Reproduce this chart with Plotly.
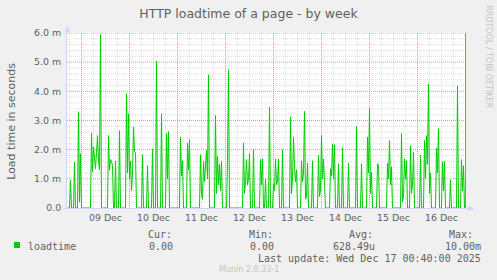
import plotly.graph_objects as go
import pandas as pd

# ---------------- data ----------------
# load time in milli-seconds, one sample every 30 minutes starting 2025-12-08 17:00
load_ms = [
    0, 0, 0, 0.95, 0, 0, 0, 1.57, 0, 0, 0, 3.3, 0.2, 1.86, 0, 0, 0, 0, 0, 0,
    0, 0, 0, 0, 2.57, 1.25, 2.1, 1.6, 1.35, 1.9, 2.48, 1.6, 1.31, 5.95, 0, 0, 0, 0, 0, 0,
    0, 2.48, 1.3, 1.66, 1.6, 1.45, 0, 0, 1.62, 0, 0, 0, 2.65, 0, 0, 0, 0, 0, 0, 3.92,
    1.2, 3.23, 1.0, 1.6, 0.6, 1.2, 2.78, 1.94, 1.9, 0, 0, 0, 0, 0, 0, 1.83, 0, 0, 0, 0,
    1.45, 0, 0, 0, 0, 2.03, 0, 0, 0, 5.04, 0, 0, 0, 0, 3.23, 0, 0, 0, 0, 2.55,
    1.0, 2.62, 0, 0, 0, 0, 0, 0, 0, 0, 0, 0, 0, 2.42, 1.1, 1.62, 0, 0, 0, 0,
    2.23, 1.3, 2.34, 0, 0, 0, 0, 0, 0, 0, 0, 0, 0, 1.83, 0.5, 0.3, 1.6, 0.9, 1.66, 1.97,
    1.0, 4.57, 0, 0, 0, 0, 0, 0, 3.17, 0.5, 1.77, 0.8, 1.49, 0.6, 1.6, 0, 0, 0, 0, 0,
    1.62, 4.74, 0, 0, 0, 0, 0, 0, 0, 0, 0, 0, 0, 0, 0, 0, 2.23, 0.5, 0.9, 1.66,
    0.8, 1.0, 1.86, 0, 0, 0, 2.0, 0, 0, 0, 0, 0, 0, 1.66, 0.8, 1.69, 0, 0, 1.0, 0,
    0, 0, 3.46, 0, 0, 0, 0.83, 0.6, 1.68, 0.8, 0.9, 1.68, 0, 0, 0, 2.0, 0, 0, 0, 0,
    0, 0, 0, 3.12, 0.5, 1.0, 2.42, 1.4, 0.9, 1.31, 0, 0, 0, 0, 1.62, 0.9, 1.2, 3.31, 0.3, 0.4,
    1.54, 0, 0, 0, 0, 1.62, 0, 0, 0, 0, 0, 1.8, 0.4, 0.6, 2.48, 1.0, 1.68, 0.9, 0, 0,
    0, 0, 0, 1.34, 1.1, 2.2, 1.0, 2.17, 0, 0, 0, 1.52, 0, 0, 0, 2.07, 0, 0, 0, 0,
    0, 1.54, 0, 0, 0, 0, 0, 0, 0, 2.8, 0, 0, 0, 0, 1.52, 0, 0, 0, 0, 0,
    2.43, 1.2, 3.42, 0.5, 1.23, 0, 0, 0, 0, 0, 1.52, 1.45, 0, 0, 0, 0, 0, 0, 0, 0,
    1.54, 1.0, 2.31, 0.8, 1.41, 0, 0, 0, 0, 0, 0, 0, 0, 0, 2.55, 0.2, 0.4, 1.69, 1.0, 1.62,
    0, 0, 0, 2.14, 0.5, 0.8, 1.92, 0, 0, 0, 0, 0, 0, 1.81, 0, 0, 0, 2.31, 1.0, 2.48,
    1.5, 4.26, 0.5, 1.2, 0, 0, 0, 0, 0, 2.06, 1.2, 2.72, 0, 0, 0, 1.58, 0.6, 1.6, 0, 0,
    0, 0, 0, 0.97, 0, 0, 0, 0, 0, 0, 4.19, 0, 0, 0, 1.66, 0.6, 1.45, 0, 0, 0,
]
start_time = "2025-12-08 17:00"
sample_step = "30min"

day_labels = ["09 Dec", "10 Dec", "11 Dec", "12 Dec", "13 Dec", "14 Dec", "15 Dec", "16 Dec"]
day_label_times = ["2025-12-%02d 12:00" % d for d in range(9, 17)]
midnights = ["2025-12-%02d 00:00" % d for d in range(9, 18)]

y_tick_vals = [0, 1, 2, 3, 4, 5, 6]
y_tick_text = ["0.0", "1.0 m", "2.0 m", "3.0 m", "4.0 m", "5.0 m", "6.0 m"]

title_text = "HTTP loadtime of a page - by week"
y_title = "Load time in seconds"
series_name = "loadtime"
stat_headers = ["Cur:", "Min:", "Avg:", "Max:"]
stat_values = ["0.00", "0.00", "628.49u", "10.00m"]
last_update = "Last update: Wed Dec 17 00:40:00 2025"
munin_version = "Munin 2.0.33-1"
rrd_credit = "RRDTOOL / TOBI OETIKER"

# ---------------- styling ----------------
W, H = 497, 280
L, R, T, B = 67, 31, 33, 72
PW, PH = W - L - R, H - T - B
GREEN = "#00CC00"
FONT = "DejaVu Sans"
MONO = "DejaVu Sans Mono"
TXT = "#5f5f5f"
AXIS = "#CFD6F8"
MINOR = "rgba(150,150,150,0.3)"
MAJOR = "rgba(222,79,79,0.6)"

x_start = pd.Timestamp("2025-12-08 16:45")
x_end = pd.Timestamp("2025-12-17 00:15")
y_max = 6.0


def px(xp):
    return (xp - L) / PW


def py(yp):
    return (H - B - yp) / PH


times = pd.date_range(start_time, periods=len(load_ms), freq=sample_step)

fig = go.Figure()
fig.add_trace(go.Scatter(x=times, y=load_ms, mode="lines",
                         line=dict(color=GREEN, width=1), hoverinfo="skip",
                         showlegend=False))

shapes = []
# horizontal grid: minor every 0.2 m, major every 1.0 m
for k in range(1, 31):
    v = k * 0.2
    major = (k % 5 == 0)
    shapes.append(dict(type="line", xref="x", yref="y", x0=x_start, x1=x_end,
                       y0=v, y1=v, layer="below",
                       line=dict(color=MAJOR if major else MINOR, width=1, dash="1px,1px")))
# vertical grid: minor every 6 h, major at midnight
t = pd.Timestamp("2025-12-08 18:00")
while t < x_end:
    major = (t.hour == 0)
    col = MAJOR if major else MINOR
    shapes.append(dict(type="line", xref="x", yref="y", x0=t, x1=t, y0=0, y1=y_max,
                       layer="below", line=dict(color=col, width=1, dash="1px,1px")))
    t += pd.Timedelta(hours=6)
# right edge (Dec 17 00:00) darker line
shapes.append(dict(type="line", xref="x", yref="y", x0=midnights[-1], x1=midnights[-1],
                   y0=0, y1=y_max, layer="below",
                   line=dict(color="rgba(190,110,110,0.9)", width=1)))
# axis extensions and arrows (outside the plotting area)
shapes.append(dict(type="line", xref="paper", yref="paper", x0=px(67.5), x1=px(67.5),
                   y0=1, y1=py(29), line=dict(color=AXIS, width=1)))
shapes.append(dict(type="path", xref="paper", yref="paper",
                   path="M %f %f L %f %f L %f %f Z" % (px(65), py(32), px(70), py(32), px(67.5), py(26)),
                   fillcolor=AXIS, line=dict(color=AXIS, width=0.5)))
shapes.append(dict(type="line", xref="paper", yref="paper", x0=1, x1=px(470),
                   y0=py(208.5), y1=py(208.5), line=dict(color=AXIS, width=1)))
shapes.append(dict(type="line", xref="paper", yref="paper", x0=px(63), x1=0,
                   y0=py(208.5), y1=py(208.5), line=dict(color=AXIS, width=1)))
shapes.append(dict(type="path", xref="paper", yref="paper",
                   path="M %f %f L %f %f L %f %f Z" % (px(468), py(206), px(468), py(211), px(474), py(208.5)),
                   fillcolor=AXIS, line=dict(color=AXIS, width=0.5)))
# legend colour box
shapes.append(dict(type="rect", xref="paper", yref="paper", x0=px(14), x1=px(20),
                   y0=py(248), y1=py(242), fillcolor=GREEN, line=dict(width=0)))

ann = []


def text(xp, yp, s, size, family=FONT, color=TXT, xanchor="left", angle=0):
    ann.append(dict(x=px(xp), y=py(yp), xref="paper", yref="paper", text=s,
                    showarrow=False, xanchor=xanchor, yanchor="middle",
                    textangle=angle, font=dict(family=family, size=size, color=color)))


text(10.8, 121, y_title, 11, xanchor="center", angle=-90)
text(488.3, 56.5, rrd_credit, 8, color="#c4c4c4", xanchor="center", angle=90)
text(26, 246, series_name, 10, family=MONO, xanchor="left")
header_x = [145.7, 246.7, 347, 447.3]
value_right = [175, 276, 376.5, 483.5]
for hx, hs in zip(header_x, stat_headers):
    text(hx, 234, hs, 10, family=MONO)
for vx, vs in zip(value_right, stat_values):
    text(vx, 246, vs, 10, family=MONO, xanchor="right")
text(483.5, 258, last_update, 10, family=MONO, xanchor="right")
text(248.5, 269.5, munin_version, 8, color="#c4c4c4", xanchor="center")

fig.update_layout(
    width=W, height=H,
    margin=dict(l=L, r=R, t=T, b=B, pad=0),
    paper_bgcolor="#F0F0F0", plot_bgcolor="#FFFFFF",
    title=dict(text=title_text, x=0.5, xref="container", xanchor="center",
               y=1 - 14 / H, yref="container", yanchor="middle",
               font=dict(family=FONT, size=12.5, color=TXT)),
    shapes=shapes, annotations=ann,
    showlegend=False,
    xaxis=dict(type="date", range=[x_start, x_end], tickvals=day_label_times,
               ticktext=day_labels, showgrid=False, zeroline=False, ticks="",
               showline=True, linecolor=AXIS, linewidth=1, layer="below traces",
               ticklabelstandoff=1,
               tickfont=dict(family=FONT, size=9.4, color=TXT), fixedrange=True),
    yaxis=dict(range=[0, y_max], tickvals=y_tick_vals, ticktext=y_tick_text,
               showgrid=False, zeroline=False, ticks="", showline=True,
               linecolor=AXIS, linewidth=1, layer="below traces",
               ticklabelstandoff=3,
               tickfont=dict(family=FONT, size=9.4, color=TXT), fixedrange=True),
)

fig.write_html("out.html")
